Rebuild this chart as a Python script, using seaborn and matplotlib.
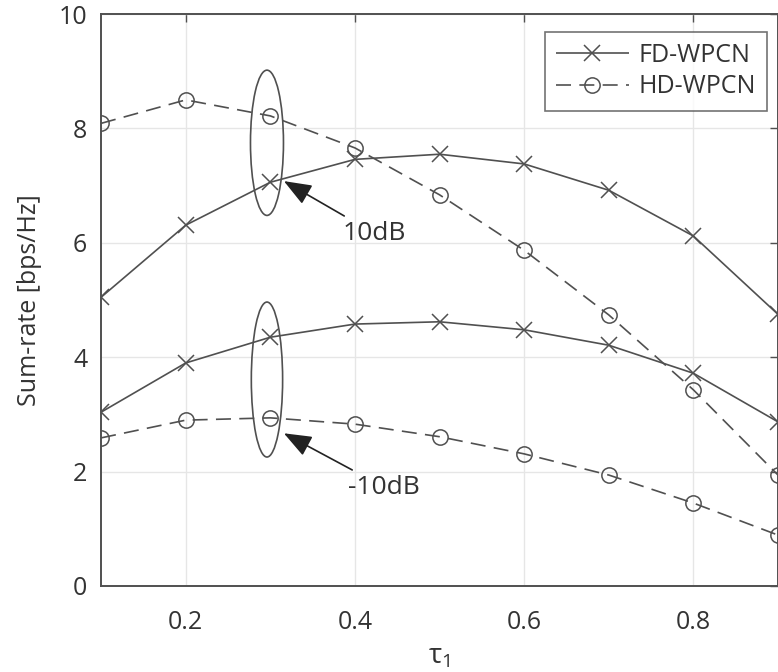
import numpy as np
import pandas as pd
import seaborn as sns
import matplotlib.pyplot as plt
from matplotlib.patches import Ellipse

tau = [0.1, 0.2, 0.3, 0.4, 0.5, 0.6, 0.7, 0.8, 0.9]
fd_10db = [5.05, 6.31, 7.06, 7.46, 7.55, 7.38, 6.92, 6.12, 4.75]
hd_10db = [8.09, 8.50, 8.22, 7.66, 6.84, 5.87, 4.74, 3.43, 1.94]
fd_m10db = [3.04, 3.90, 4.35, 4.58, 4.62, 4.48, 4.21, 3.72, 2.87]
hd_m10db = [2.59, 2.90, 2.94, 2.83, 2.61, 2.31, 1.94, 1.45, 0.89]

series = [
    ('FD-WPCN', '10dB', fd_10db),
    ('HD-WPCN', '10dB', hd_10db),
    ('FD-WPCN', '-10dB', fd_m10db),
    ('HD-WPCN', '-10dB', hd_m10db),
]

sns.set_theme(style='whitegrid')
plt.rcParams['font.family'] = ['Open Sans', 'DejaVu Sans']

col = '#505050'
fig = plt.figure(figsize=(7.78, 6.72), dpi=100)
ax = fig.add_axes([0.130, 0.128, 0.870, 0.851])

for scheme, snr, vals in series:
    df = pd.DataFrame({'tau': tau, 'rate': vals})
    fd = scheme == 'FD-WPCN'
    sns.lineplot(data=df, x='tau', y='rate', ax=ax, color=col, lw=1.2,
                 marker='x' if fd else 'o', markersize=11, mew=1.1,
                 markerfacecolor='none', markeredgecolor=col,
                 dashes=(1, 0) if fd else (9, 5),
                 label=scheme if snr == '10dB' else None)

# ellipses grouping the SNR cases
ax.add_patch(Ellipse((0.296, 7.75), 0.039, 2.54, fill=False, ec=col, lw=1.2, zorder=5))
ax.add_patch(Ellipse((0.296, 3.61), 0.037, 2.71, fill=False, ec=col, lw=1.2, zorder=5))

arrow = dict(arrowstyle='-|>,head_length=0.9,head_width=0.35', color='#222222', lw=1.2,
             shrinkA=2, shrinkB=0)
ax.annotate('10dB', xy=(0.316, 7.08), xytext=(0.385, 6.17), fontsize=19, color='#333333',
            va='center', ha='left', arrowprops=arrow)
ax.annotate('-10dB', xy=(0.316, 2.67), xytext=(0.392, 1.73), fontsize=19, color='#333333',
            va='center', ha='left', arrowprops=arrow)

ax.set_xlim(0.1, 0.9)
ax.set_ylim(0, 10)
ax.set_xticks([0.2, 0.4, 0.6, 0.8])
ax.set_xticklabels(['0.2', '0.4', '0.6', '0.8'])
ax.set_yticks([0, 2, 4, 6, 8, 10])
ax.tick_params(direction='in', length=6, width=1, colors=col, labelcolor='#333333',
               labelsize=18, top=True, right=True, pad=10)
ax.tick_params(axis='x', pad=17)
ax.grid(True, color='#e6e6e6', lw=1)
for s in ax.spines.values():
    s.set_color(col)
    s.set_linewidth(1.4)
ax.set_xlabel(r'$\mathregular{\tau_1}$', fontsize=20, color='#333333', labelpad=6)
ax.set_ylabel('Sum-rate [bps/Hz]', fontsize=18, color='#333333', labelpad=12)

leg = ax.legend(loc='upper right', fontsize=18, frameon=True, fancybox=False,
                edgecolor=col, borderaxespad=0, borderpad=0.45, handlelength=2.9,
                handletextpad=0.4, labelspacing=0.25, bbox_to_anchor=(0.984, 0.969))
leg.get_frame().set_linewidth(1.2)
for t in leg.get_texts():
    t.set_color('#333333')

plt.savefig('out.png', dpi=100)
